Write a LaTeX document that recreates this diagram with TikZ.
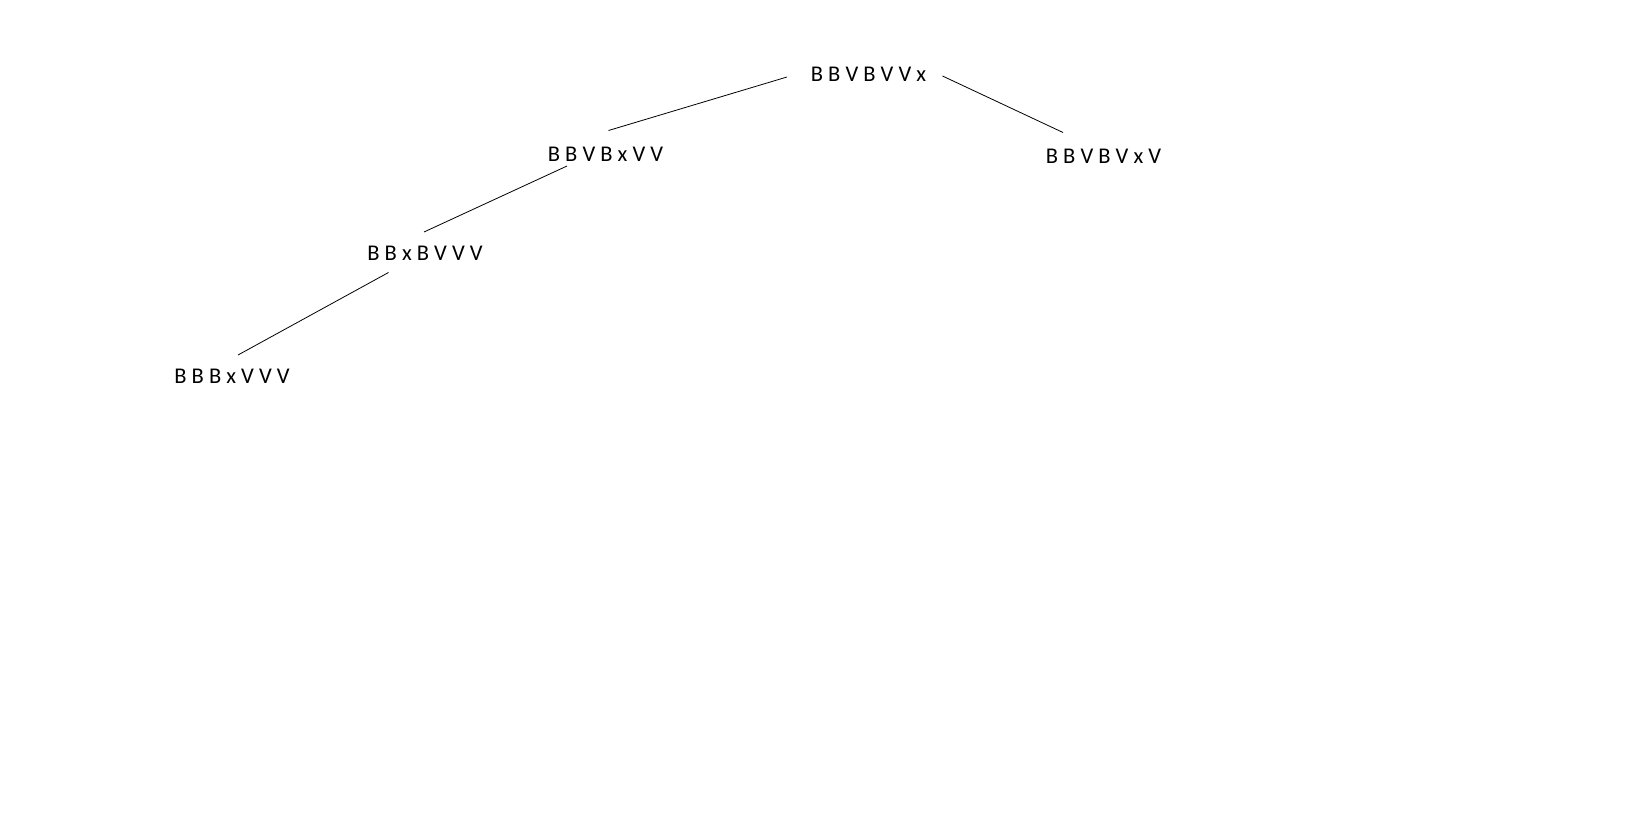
\documentclass[tikz,border=0pt]{standalone}
\usepackage{fontspec}
\setmainfont{Carlito}
\begin{document}
\begin{tikzpicture}[x=1pt,y=-1pt,
  lbl/.style={inner sep=0pt,font=\fontsize{22.5}{27}\selectfont},
  edge/.style={line width=0.8pt,black}]
\useasboundingbox (0,0) rectangle (1637,833);
\node[lbl] (root) at (868.5,74) {B B V B V V x};
\node[lbl] (c1) at (605.5,154) {B B V B x V V};
\node[lbl] (c2) at (1103.5,156) {B B V B V x V};
\node[lbl] (g1) at (425,253) {B B x B V V V};
\node[lbl] (h1) at (232,376) {B B B x V V V};
\coordinate (a1) at (787,77);
\coordinate (a2) at (608.5,130.5);
\coordinate (b1) at (942.5,76);
\coordinate (b2) at (1063,132.5);
\coordinate (d1) at (567,166);
\coordinate (d2) at (424,232);
\coordinate (f1) at (388.5,272.5);
\coordinate (f2) at (238,355);
\draw[edge] (a1) -- (a2);
\draw[edge] (b1) -- (b2);
\draw[edge] (d1) -- (d2);
\draw[edge] (f1) -- (f2);
\end{tikzpicture}
\end{document}
